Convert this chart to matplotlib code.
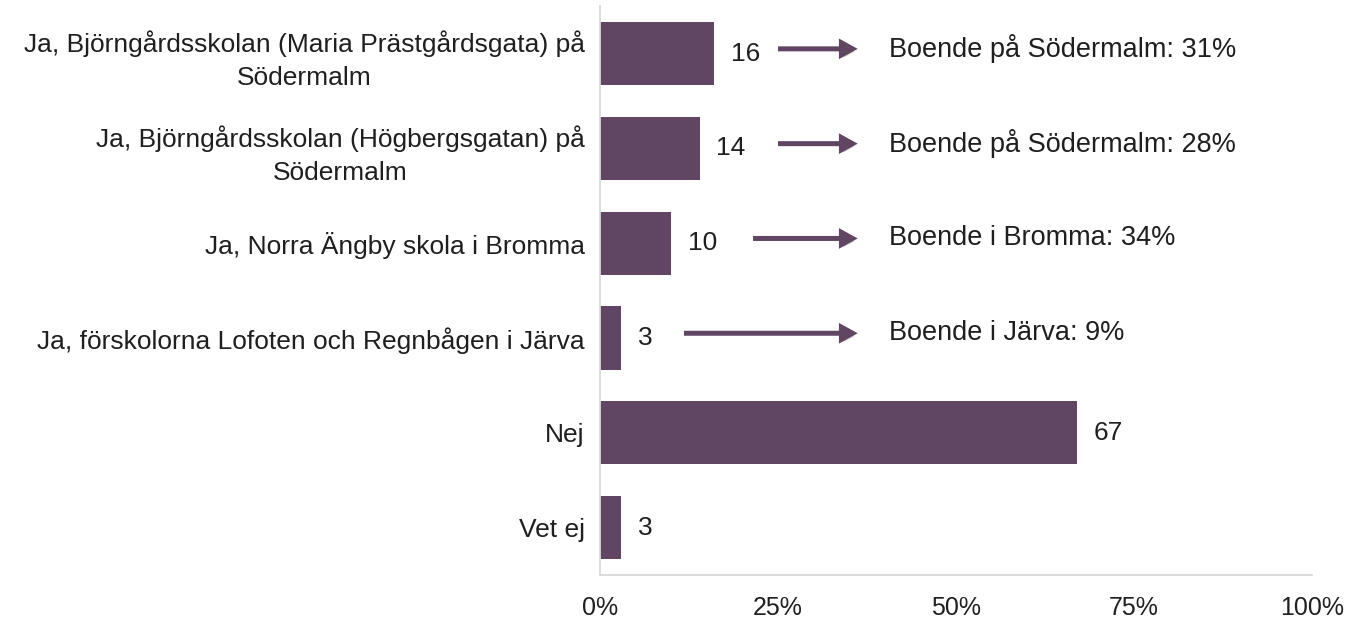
import matplotlib.pyplot as plt
import matplotlib.patheffects as pe

plt.rcParams['font.family'] = ['Liberation Sans', 'DejaVu Sans']

categories = [
    "Ja, Björngårdsskolan (Maria Prästgårdsgata) på\nSödermalm",
    "Ja, Björngårdsskolan (Högbergsgatan) på\nSödermalm",
    "Ja, Norra Ängby skola i Bromma",
    "Ja, förskolorna Lofoten och Regnbågen i Järva",
    "Nej",
    "Vet ej",
]
values = [16, 14, 10, 3, 67, 3]

notes = [
    "Boende på Södermalm: 31%",
    "Boende på Södermalm: 28%",
    "Boende i Bromma: 34%",
    "Boende i Järva: 9%",
]

xticks = [0, 25, 50, 75, 100]
xtick_labels = ["0%", "25%", "50%", "75%", "100%"]

BAR = "#604663"
TXT = "#1f1f1f"
GRID = "#d9d9d9"


def graficar():
    fig = plt.figure(figsize=(13.5, 6.2), dpi=100)
    ax = fig.add_axes([0.4444, 0.0726, 0.5275, 0.9174])

    pos = list(range(len(categories)))
    ax.barh(pos, values, height=0.667, color=BAR)

    # etiquetas de valor
    for y, v in zip(pos, values):
        ax.annotate(str(v), xy=(v, y), xytext=(12, 0), textcoords="offset points",
                    va="center", ha="left", fontsize=19, color=TXT)

    # flechas y textos
    arrow_start = [25, 25, 21.5, 11.8]
    arrow_end = 36.2
    for i, txt in enumerate(notes):
        y = pos[i] - 0.05
        a = ax.annotate("", xy=(arrow_end, y), xytext=(arrow_start[i], y),
                        arrowprops=dict(arrowstyle="-|>,head_length=0.4,head_width=0.22",
                                        mutation_scale=20, lw=3.6, color=BAR,
                                        joinstyle="miter", capstyle="butt",
                                        shrinkA=0, shrinkB=0))
        a.arrow_patch.set_path_effects([
            pe.SimplePatchShadow(offset=(1.5, -2), shadow_rgbFace="#888888", alpha=0.35),
            pe.Normal()])
        ax.text(40.6, y, txt, va="center", ha="left", fontsize=19.5, color=TXT)

    ax.set_xlim(0, 100)
    ax.set_ylim(len(categories) - 0.5, -0.5)
    ax.set_xticks(xticks)
    ax.set_xticklabels(xtick_labels)
    ax.set_yticks(pos)
    ax.set_yticklabels(categories, multialignment="center", linespacing=1.45)

    ax.tick_params(axis="x", length=0, pad=15, labelsize=18, labelcolor=TXT)
    ax.tick_params(axis="y", length=0, pad=11, labelsize=19, labelcolor=TXT)

    for s in ["top", "right"]:
        ax.spines[s].set_visible(False)
    for s in ["left", "bottom"]:
        ax.spines[s].set_color(GRID)
        ax.spines[s].set_linewidth(1.3)

    fig.savefig("out.png", dpi=100)


if __name__ == "__main__":
    graficar()
